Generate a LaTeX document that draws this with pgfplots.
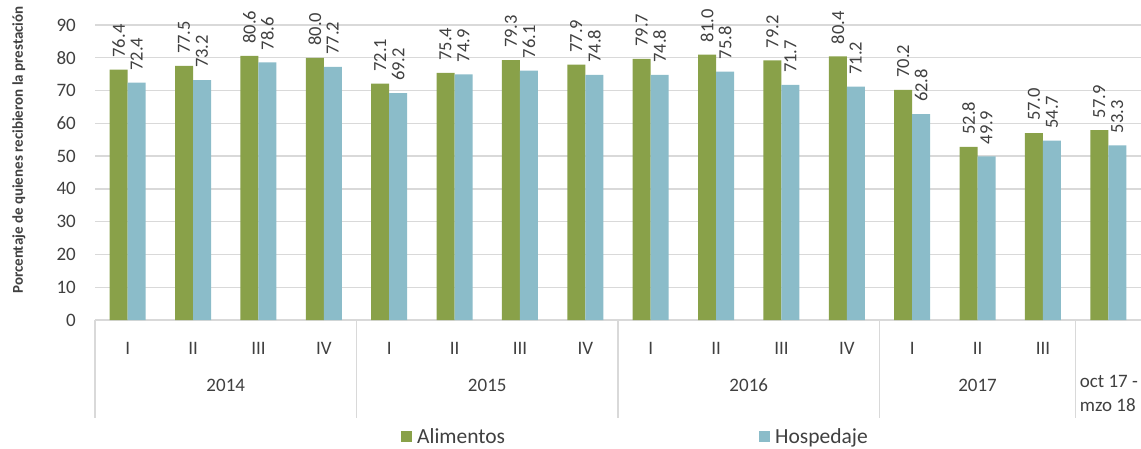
\documentclass[border=0pt]{standalone}
\usepackage{pgfplots}
\usepackage{pgfplotstable}
\pgfplotsset{compat=1.18}
\usepackage{fontspec}
\setmainfont{Carlito}
\definecolor{gAl}{RGB}{137,161,73}
\definecolor{bHo}{RGB}{139,188,201}
\definecolor{txt}{RGB}{64,64,64}
\definecolor{grd}{RGB}{217,217,217}

\pgfplotstableread{
x y lab
0 76.4 76.4
1 77.5 77.5
2 80.6 80.6
3 80.0 80.0
4 72.1 72.1
5 75.4 75.4
6 79.3 79.3
7 77.9 77.9
8 79.7 79.7
9 81.0 81.0
10 79.2 79.2
11 80.4 80.4
12 70.2 70.2
13 52.8 52.8
14 57.0 57.0
15 57.9 57.9
}\tabAl

\pgfplotstableread{
x y lab
0 72.4 72.4
1 73.2 73.2
2 78.6 78.6
3 77.2 77.2
4 69.2 69.2
5 74.9 74.9
6 76.1 76.1
7 74.8 74.8
8 74.8 74.8
9 75.8 75.8
10 71.7 71.7
11 71.2 71.2
12 62.8 62.8
13 49.9 49.9
14 54.7 54.7
15 53.3 53.3
}\tabHo

\begin{document}
\begin{tikzpicture}
\useasboundingbox (0,0) rectangle (1141pt,448pt);
\begin{axis}[
  at={(95pt,128pt)}, anchor=south west,
  scale only axis, width=1046pt, height=295pt,
  ymin=0, ymax=90, xmin=-0.5, xmax=15.5,
  clip=false,
  ytick={0,10,...,90},
  xtick={0,...,15},
  xticklabels={I,II,III,IV,I,II,III,IV,I,II,III,IV,I,II,III,{}},
  ymajorgrids, grid style={draw=grd, line width=1.3pt},
  axis line style={draw=none},
  major tick length=0pt,
  tick style={draw=none},
  /pgf/number format/assume math mode=true,
  yticklabel style={anchor=east, inner sep=0pt, xshift=-19pt, text=txt, font=\fontsize{19}{20}\selectfont},
  xticklabel style={anchor=base, inner sep=0pt, yshift=-34pt, text=txt, font=\fontsize{19}{20}\selectfont},
  ybar=0pt, bar width=18pt,
  nodes near coords,
  point meta=explicit symbolic,
  every node near coord/.append style={rotate=90, anchor=west, inner sep=0pt, xshift=12pt, text=txt, font=\fontsize{18.5}{20}\selectfont},
  legend columns=2,
  legend style={draw=none, fill=none, at={(0.2925,-0.3966)}, anchor=west, inner sep=0pt,
    font=\fontsize{21.5}{22}\selectfont, text=txt,
    nodes={inner sep=0pt},
    /tikz/column sep=5pt,
    /tikz/every even column/.append style={column sep=254pt}},
]
\addplot[fill=gAl, draw=none, legend image code/.code={\fill[gAl] (0pt,-5pt) rectangle (11pt,6pt);}] table[x=x, y=y, meta=lab] {\tabAl};
\addlegendentry{Alimentos}
\addplot[fill=bHo, draw=none, legend image code/.code={\fill[bHo] (0pt,-5pt) rectangle (11pt,6pt);}] table[x=x, y=y, meta=lab] {\tabHo};
\addlegendentry{Hospedaje}

\draw[grd, line width=1.3pt] (axis cs:-0.5,0) -- ++(0pt,-98pt);
\draw[grd, line width=1.3pt] (axis cs:3.5,0) -- ++(0pt,-98pt);
\draw[grd, line width=1.3pt] (axis cs:7.5,0) -- ++(0pt,-98pt);
\draw[grd, line width=1.3pt] (axis cs:11.5,0) -- ++(0pt,-98pt);
\draw[grd, line width=1.3pt] (axis cs:14.5,0) -- ++(0pt,-98pt);
\node[text=txt, font=\fontsize{19}{20}\selectfont] at (axis cs:1.5,0) [yshift=-65pt] {2014};
\node[text=txt, font=\fontsize{19}{20}\selectfont] at (axis cs:5.5,0) [yshift=-65pt] {2015};
\node[text=txt, font=\fontsize{19}{20}\selectfont] at (axis cs:9.5,0) [yshift=-65pt] {2016};
\node[text=txt, font=\fontsize{19}{20}\selectfont] at (axis cs:13,0) [yshift=-65pt] {2017};
\node[text=txt, font=\fontsize{19}{24}\selectfont, align=left, anchor=north west, inner sep=0pt] at (axis cs:14.5,0) [xshift=4pt, yshift=-55pt] {oct 17 -\\mzo 18};
\end{axis}
\node[rotate=90, text=txt, font=\fontsize{15}{16}\selectfont\bfseries] at (19pt,298pt) {Porcentaje de quienes recibieron la prestación};
\end{tikzpicture}
\end{document}
